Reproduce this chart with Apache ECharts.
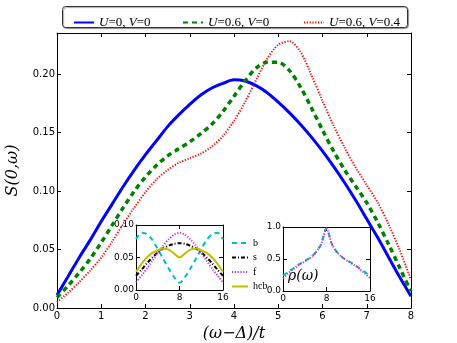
<!DOCTYPE html>
<html>
<head>
<meta charset="utf-8">
<script src="https://cdn.jsdelivr.net/npm/echarts@6/dist/echarts.min.js"></script>
<style>
  html, body { margin: 0; padding: 0; background: #fff; }
  #chart { width: 457px; height: 343px; }
</style>
</head>
<body>
<div id="chart"></div>
<script>
// main panel: S(0,w) vs (w-D)/t
const omega = [0, 0.25, 0.5, 0.75, 1, 1.25, 1.5, 1.75, 2, 2.25, 2.5, 2.75, 3, 3.25, 3.5, 3.75, 4,
  4.25, 4.5, 4.75, 5, 5.25, 5.5, 5.75, 6, 6.25, 6.5, 6.75, 7, 7.25, 7.5, 7.75, 8]
const sU0V0 = [0.011, 0.027, 0.043, 0.058, 0.074, 0.089, 0.104, 0.118, 0.131, 0.143, 0.155, 0.165, 0.174,
  0.182, 0.188, 0.192, 0.195, 0.194, 0.190, 0.184, 0.176, 0.167, 0.157, 0.146, 0.134, 0.121, 0.107,
  0.092, 0.076, 0.060, 0.043, 0.026, 0.010]
const sU06V0 = [0.009, 0.019, 0.030, 0.042, 0.056, 0.071, 0.086, 0.100, 0.112, 0.122, 0.130, 0.136, 0.142,
  0.149, 0.157, 0.168, 0.181, 0.194, 0.205, 0.210, 0.210, 0.203, 0.189, 0.171, 0.152, 0.134, 0.118,
  0.104, 0.090, 0.073, 0.054, 0.034, 0.014]
const sU06V04 = [0.005, 0.013, 0.022, 0.032, 0.043, 0.057, 0.072, 0.086, 0.099, 0.110, 0.118, 0.124, 0.128,
  0.132, 0.138, 0.147, 0.160, 0.176, 0.195, 0.213, 0.225, 0.228, 0.219, 0.199, 0.177, 0.156, 0.137,
  0.120, 0.105, 0.090, 0.071, 0.049, 0.024]
const mainTicks = ['0.00', '0.05', '0.10', '0.15', '0.20']

// left inset
const insetX = [0, 1, 2, 3, 4, 5, 6, 7, 8, 9, 10, 11, 12, 13, 14, 15, 16]
const hB = [0.078, 0.088, 0.086, 0.077, 0.063, 0.048, 0.033, 0.020, 0.011, 0.020, 0.033, 0.048, 0.063, 0.077, 0.086, 0.088, 0.078]
const hS = [0.022, 0.031, 0.041, 0.050, 0.058, 0.064, 0.068, 0.071, 0.072, 0.071, 0.068, 0.064, 0.058, 0.050, 0.041, 0.031, 0.022]
const hF = [0.012, 0.022, 0.033, 0.045, 0.057, 0.068, 0.078, 0.085, 0.088, 0.085, 0.078, 0.068, 0.057, 0.045, 0.033, 0.022, 0.012]
const hHcb = [0.028, 0.040, 0.050, 0.057, 0.061, 0.064, 0.062, 0.056, 0.050, 0.056, 0.062, 0.064, 0.061, 0.057, 0.050, 0.040, 0.028]

// right inset: rho(w)
const rhoB = [0.24, 0.30, 0.36, 0.42, 0.47, 0.52, 0.60, 0.73, 0.98, 0.73, 0.60, 0.52, 0.47, 0.42, 0.36, 0.30, 0.24]
const rhoF = [0.20, 0.28, 0.35, 0.41, 0.46, 0.52, 0.60, 0.73, 0.97, 0.73, 0.60, 0.52, 0.46, 0.41, 0.35, 0.28, 0.20]

const pairs = (xs, ys) => xs.map((x, i) => [x, ys[i]])

const tickFont = { color: '#000', fontSize: 9, fontFamily: 'DejaVu Sans' }
const frame = { show: true, onZero: false, lineStyle: { color: '#000', width: 1 } }
const inTick = { show: true, inside: true, length: 4, lineStyle: { color: '#000' } }

function boxAxes(gridIndex, xMin, xMax, xInt, yMin, yMax, yInt, yFmt) {
  const xs = [
    { type: 'value', gridIndex, min: xMin, max: xMax, interval: xInt, axisLine: frame, axisTick: inTick,
      splitLine: { show: false }, axisLabel: Object.assign({ margin: 3 }, tickFont) },
    { type: 'value', gridIndex, position: 'top', min: xMin, max: xMax, interval: xInt, axisLine: frame,
      axisTick: inTick, splitLine: { show: false }, axisLabel: { show: false } }
  ]
  const ys = [
    { type: 'value', gridIndex, min: yMin, max: yMax, interval: yInt, axisLine: frame, axisTick: inTick,
      splitLine: { show: false },
      axisLabel: Object.assign({ margin: 2, showMaxLabel: yMax % yInt === 0 ? true : false, formatter: yFmt }, tickFont) },
    { type: 'value', gridIndex, position: 'right', min: yMin, max: yMax, interval: yInt, axisLine: frame,
      axisTick: inTick, splitLine: { show: false }, axisLabel: { show: false } }
  ]
  return { xs, ys }
}

const titleFont = { fontFamily: 'DejaVu Serif', fontStyle: 'italic', fontSize: 16, color: '#000' }
const mainAx = boxAxes(0, 0, 8, 1, 0, 0.235, 0.05, (v) => mainTicks[Math.round(v / 0.05)] || '')
mainAx.xs[0].axisLabel.fontSize = 10
mainAx.ys[0].axisLabel.fontSize = 10
mainAx.xs[0].name = '(ω−Δ)/t'
mainAx.xs[0].nameLocation = 'middle'
mainAx.xs[0].nameGap = 18
mainAx.xs[0].nameTextStyle = titleFont
mainAx.ys[0].name = 'S(0,ω)'
mainAx.ys[0].nameLocation = 'middle'
mainAx.ys[0].nameGap = 36
mainAx.ys[0].nameTextStyle = titleFont

const in1 = boxAxes(1, 0, 16, 8, 0, 0.1, 0.05, (v) => v.toFixed(2))
const in2 = boxAxes(2, 0, 16, 8, 0, 1, 0.5, (v) => v.toFixed(1))

let chart = echarts.init(document.getElementById('chart'))
const rich = { i: { fontFamily: 'Liberation Serif', fontStyle: 'italic', fontSize: 13, color: '#000' },
  n: { fontFamily: 'Liberation Serif', fontSize: 13, color: '#000' } }
const legendText = {
  'U=0, V=0': '{i|U}{n|=0, }{i|V}{n|=0}',
  'U=0.6, V=0': '{i|U}{n|=0.6, }{i|V}{n|=0}',
  'U=0.6, V=0.4': '{i|U}{n|=0.6, }{i|V}{n|=0.4}'
}
function mainLegend(name, left) {
  return {
    data: [name], left, top: 11, itemWidth: 20, itemHeight: 10, itemGap: 0,
    itemStyle: { opacity: 0 },
    formatter: (n) => legendText[n], textStyle: { rich }
  }
}

let option = {
  animation: false,
  backgroundColor: '#fff',
  graphic: [
    { type: 'rect', left: 62, top: 6, shape: { width: 345, height: 21, r: 3 }, z: 0,
      style: { fill: '#fff', stroke: '#333', lineWidth: 1, shadowColor: 'rgba(0,0,0,0.35)', shadowOffsetX: 1, shadowOffsetY: 1, shadowBlur: 1 } },
    { type: 'text', left: 288, top: 269, z: 10,
      style: { text: 'ρ(ω)', fontFamily: 'DejaVu Serif', fontStyle: 'italic', fontSize: 14, fill: '#000' } }
  ],
  legend: [
    mainLegend('U=0, V=0', 68),
    mainLegend('U=0.6, V=0', 177),
    mainLegend('U=0.6, V=0.4', 298),
    {
      data: ['b', 's', 'f', 'hcb'], orient: 'vertical', left: 226, top: 233, itemWidth: 16, itemHeight: 8,
      itemGap: 4.5, itemStyle: { opacity: 0 },
      textStyle: { fontFamily: 'Liberation Serif', fontSize: 10, color: '#000' }
    }
  ],
  grid: [
    { left: 57, right: 46, top: 33, bottom: 35, outerBoundsMode: 'none' },
    { left: 136, top: 225, width: 87, height: 65, show: true, backgroundColor: '#fff', borderWidth: 0, outerBoundsMode: 'none' },
    { left: 283, top: 227, width: 87, height: 64, show: true, backgroundColor: '#fff', borderWidth: 0, outerBoundsMode: 'none' }
  ],
  xAxis: [...mainAx.xs, ...in1.xs, ...in2.xs],
  yAxis: [...mainAx.ys, ...in1.ys, ...in2.ys],
  series: [
    { name: 'U=0, V=0', type: 'line', xAxisIndex: 0, yAxisIndex: 0, symbol: 'none', smooth: 0.3,
      data: pairs(omega, sU0V0), lineStyle: { color: '#0000ff', width: 3 }, itemStyle: { color: '#0000ff' } },
    { name: 'U=0.6, V=0', type: 'line', xAxisIndex: 0, yAxisIndex: 0, symbol: 'none', smooth: 0.3,
      data: pairs(omega, sU06V0), lineStyle: { color: '#008000', width: 3.5, type: [5, 4] }, itemStyle: { color: '#008000' } },
    { name: 'U=0.6, V=0.4', type: 'line', xAxisIndex: 0, yAxisIndex: 0, symbol: 'none', smooth: 0.3,
      data: pairs(omega, sU06V04), lineStyle: { color: '#ff0000', width: 2, type: [1.2, 1.6] }, itemStyle: { color: '#ff0000' } },

    { name: 'b', type: 'line', xAxisIndex: 2, yAxisIndex: 2, symbol: 'none', smooth: 0.3, z: 5,
      data: pairs(insetX, hB), lineStyle: { color: '#00bfbf', width: 2, type: [5, 4] }, itemStyle: { color: '#00bfbf' } },
    { name: 's', type: 'line', xAxisIndex: 2, yAxisIndex: 2, symbol: 'none', smooth: 0.3, z: 5,
      data: pairs(insetX, hS), lineStyle: { color: '#000', width: 2, type: [4, 2, 1, 2] }, itemStyle: { color: '#000' } },
    { name: 'f', type: 'line', xAxisIndex: 2, yAxisIndex: 2, symbol: 'none', smooth: 0.3, z: 5,
      data: pairs(insetX, hF), lineStyle: { color: '#cc33cc', width: 2, type: [1.2, 1.6] }, itemStyle: { color: '#cc33cc' } },
    { name: 'hcb', type: 'line', xAxisIndex: 2, yAxisIndex: 2, symbol: 'none', smooth: 0.3, z: 5,
      data: pairs(insetX, hHcb), lineStyle: { color: '#bfbf00', width: 2 }, itemStyle: { color: '#bfbf00' } },

    { name: 'rho b', type: 'line', xAxisIndex: 4, yAxisIndex: 4, symbol: 'none', smooth: 0.3, z: 5,
      data: pairs(insetX, rhoB), lineStyle: { color: '#00bfbf', width: 2, type: [5, 4] } },
    { name: 'rho f', type: 'line', xAxisIndex: 4, yAxisIndex: 4, symbol: 'none', smooth: 0.3, z: 5,
      data: pairs(insetX, rhoF), lineStyle: { color: '#cc33cc', width: 2, type: [1.2, 1.6] } }
  ]
}
chart.setOption(option)
</script>
</body>
</html>
